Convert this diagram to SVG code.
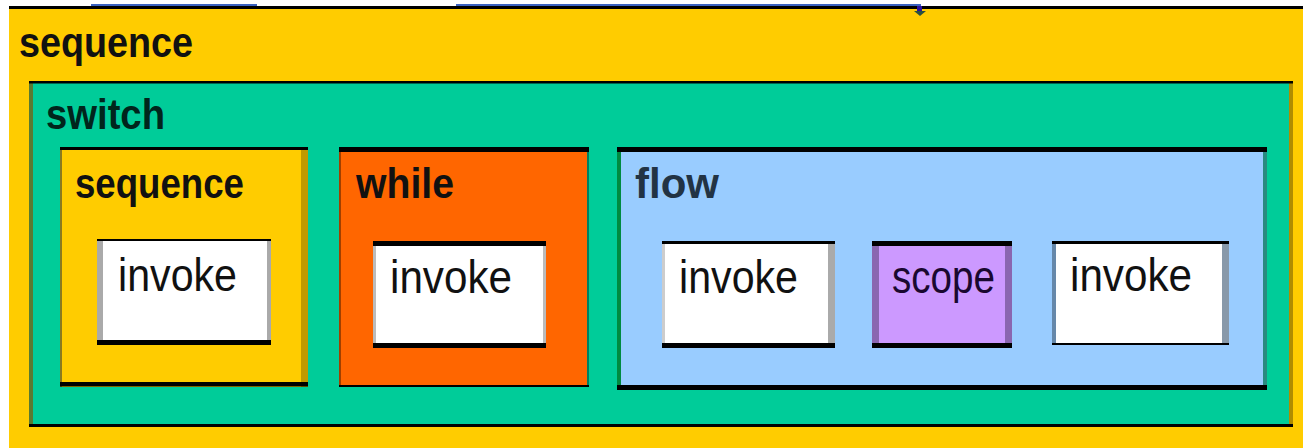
<svg xmlns="http://www.w3.org/2000/svg" width="1303" height="448" viewBox="0 0 1303 448">
  <style>
    .hdr { font-family: "Liberation Sans", Arial, sans-serif; font-weight: bold; font-size: 42px; fill: #111; }
    .lbl { font-family: "Liberation Sans", Arial, sans-serif; font-size: 46px; fill: #111; }
    .edge { fill: #000; }
    .wire { fill: none; stroke: #3a62c0; stroke-width: 2; }
  </style>
  <rect x="0" y="0" width="1303" height="448" fill="#fff"/>

  <!-- outer sequence -->
  <g id="sequence-outer">
    <rect x="9" y="9" width="1294" height="439" fill="#FFCC00"/>
    <rect class="edge" x="9" y="6" width="1294" height="3"/>
    <text class="hdr" x="19" y="57" textLength="174" lengthAdjust="spacingAndGlyphs">sequence</text>
  </g>

  <!-- switch -->
  <g id="switch">
    <rect x="29" y="81" width="1264" height="346" fill="#00CC99"/>
    <rect x="29" y="81" width="4" height="346" fill="#5a7a30"/>
    <rect x="1289" y="81" width="4" height="346" fill="#b08c00"/>
    <rect class="edge" x="29" y="81" width="1264" height="2.5"/>
    <rect class="edge" x="29" y="424" width="1264" height="3"/>
    <text class="hdr" x="46" y="129" textLength="119" lengthAdjust="spacingAndGlyphs" style="fill:#00251c">switch</text>
  </g>

  <!-- inner sequence -->
  <g id="sequence-inner">
    <rect x="60" y="147" width="248" height="240" fill="#FFCC00"/>
    <rect x="60" y="147" width="2" height="240" fill="#8a7a20"/>
    <rect x="301" y="147" width="7" height="240" fill="#C09A00"/>
    <rect class="edge" x="60" y="147" width="248" height="3"/>
    <rect class="edge" x="60" y="382" width="248" height="4.5"/>
    <text class="hdr" x="75" y="198" textLength="169" lengthAdjust="spacingAndGlyphs">sequence</text>
  </g>
  <g id="invoke-1">
    <rect x="97" y="239" width="174" height="106" fill="#fff"/>
    <rect x="97" y="239" width="6" height="106" fill="#aaa"/>
    <rect x="267" y="239" width="4" height="106" fill="#aaa"/>
    <rect class="edge" x="97" y="239" width="174" height="2"/>
    <rect class="edge" x="97" y="340" width="174" height="5"/>
    <text class="lbl" x="118" y="291" textLength="119" lengthAdjust="spacingAndGlyphs">invoke</text>
  </g>

  <!-- while -->
  <g id="while">
    <rect x="339" y="147" width="250" height="240" fill="#FF6600"/>
    <rect x="339" y="147" width="2" height="240" fill="#a04000"/>
    <rect x="587" y="147" width="2" height="240" fill="#008060"/>
    <rect class="edge" x="339" y="147" width="250" height="5"/>
    <rect class="edge" x="339" y="385" width="250" height="2"/>
    <text class="hdr" x="356" y="198" textLength="98" lengthAdjust="spacingAndGlyphs">while</text>
  </g>
  <g id="invoke-2">
    <rect x="373" y="241" width="173" height="107" fill="#fff"/>
    <rect x="373" y="241" width="3" height="107" fill="#bbb"/>
    <rect x="543" y="241" width="3" height="107" fill="#bbb"/>
    <rect class="edge" x="373" y="241" width="173" height="5"/>
    <rect class="edge" x="373" y="343" width="173" height="5"/>
    <text class="lbl" x="390" y="293" textLength="122" lengthAdjust="spacingAndGlyphs">invoke</text>
  </g>

  <!-- flow -->
  <g id="flow">
    <rect x="617" y="147" width="650" height="243" fill="#99CCFF"/>
    <rect x="617" y="147" width="4" height="243" fill="#008a40"/>
    <rect x="1263" y="147" width="4" height="243" fill="#2a8a80"/>
    <rect class="edge" x="617" y="147" width="650" height="5"/>
    <rect class="edge" x="617" y="385" width="650" height="5"/>
    <text class="hdr" x="635" y="198" textLength="84" lengthAdjust="spacingAndGlyphs" style="fill:#223344">flow</text>
  </g>
  <g id="invoke-3">
    <rect x="662" y="241" width="173" height="107" fill="#fff"/>
    <rect x="662" y="241" width="3" height="107" fill="#ccc"/>
    <rect x="828" y="241" width="7" height="107" fill="#aaa"/>
    <rect class="edge" x="662" y="241" width="173" height="3"/>
    <rect class="edge" x="662" y="343" width="173" height="5"/>
    <text class="lbl" x="679" y="293" textLength="119" lengthAdjust="spacingAndGlyphs">invoke</text>
  </g>
  <g id="scope">
    <rect x="872" y="241" width="140" height="107" fill="#CC99FF"/>
    <rect x="872" y="241" width="7" height="107" fill="#8a66b0"/>
    <rect x="1005" y="241" width="7" height="107" fill="#8a66b0"/>
    <rect class="edge" x="872" y="241" width="140" height="5"/>
    <rect class="edge" x="872" y="343" width="140" height="5"/>
    <text class="lbl" x="892" y="293" textLength="103" lengthAdjust="spacingAndGlyphs" style="fill:#1a0830">scope</text>
  </g>
  <g id="invoke-4">
    <rect x="1052" y="241" width="177" height="104" fill="#fff"/>
    <rect x="1052" y="241" width="4" height="104" fill="#6688aa"/>
    <rect x="1222" y="241" width="7" height="104" fill="#8899aa"/>
    <rect class="edge" x="1052" y="241" width="177" height="3"/>
    <rect class="edge" x="1052" y="343" width="177" height="2"/>
    <text class="lbl" x="1070" y="291" textLength="122" lengthAdjust="spacingAndGlyphs">invoke</text>
  </g>

  <!-- incoming links entering from above, drawn on top -->
  <g id="connectors">
    <line class="wire" x1="91" y1="5" x2="257" y2="5"/>
    <polyline class="wire" points="456,5 920,5 920,10"/>
    <rect x="917" y="6" width="5" height="5" fill="#2a10a0"/>
    <path d="M914,11 L926,11 L920,16 z" fill="#2a5040"/>
  </g>
</svg>
